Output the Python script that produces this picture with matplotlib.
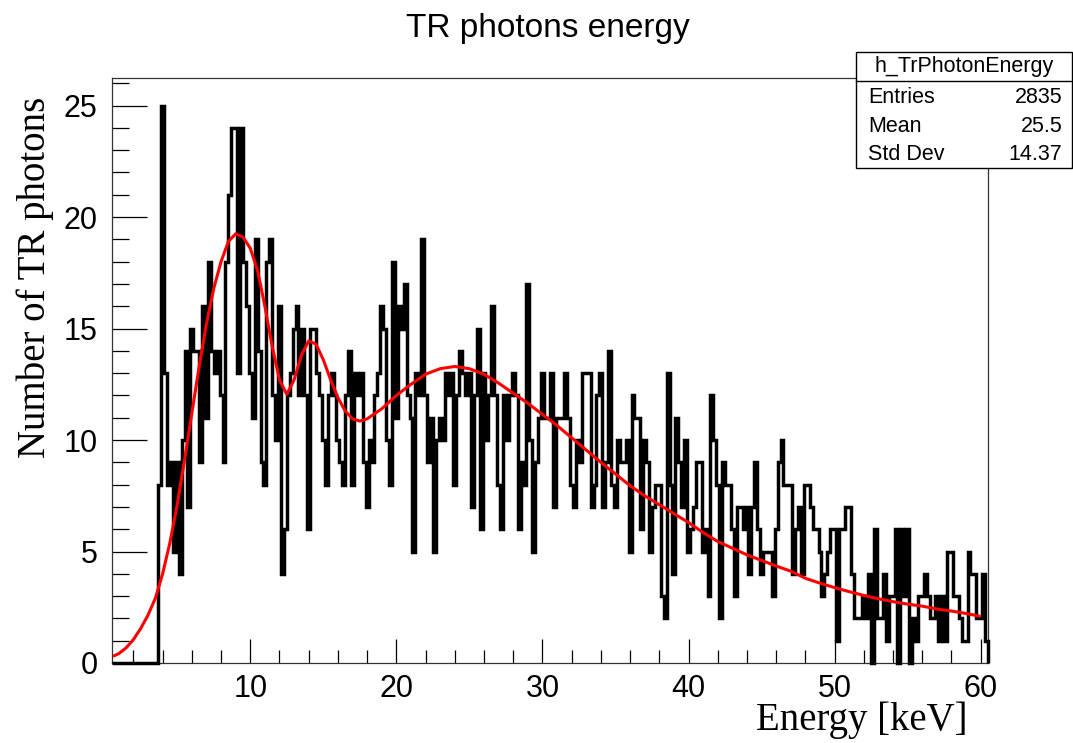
import numpy as np
import matplotlib
matplotlib.use("Agg")
import matplotlib.pyplot as plt
from matplotlib.patches import Rectangle

# Histogram: 300 bins of 0.2 keV between 0.5 and 60.5 keV
x_low, x_high, n_bins = 0.5, 60.5, 300

# Bin contents starting at 3.7 keV (all lower bins are empty)
counts_3_7_to_10_1 = [8, 25, 13, 8, 9, 5, 9, 4, 10, 14, 7, 15, 14, 14, 9, 16,
                      11, 18, 14, 13, 14, 12, 9, 18, 21, 24, 24, 13, 24, 18,
                      16, 13]
counts_10_1_to_20_1 = [11, 19, 14, 9, 8, 18, 19, 12, 10, 16, 4, 6, 12, 13,
                       15, 16, 12, 15, 12, 6, 15, 15, 13, 12, 10, 8, 12, 13,
                       12, 10, 9, 8, 12, 14, 8, 13, 12, 13, 9, 7, 10, 9, 12,
                       13, 16, 15, 10, 8, 18, 11]
counts_20_1_to_30_1 = [16, 15, 17, 12, 11, 5, 13, 12, 19, 12, 9, 11, 5, 10,
                       11, 10, 13, 12, 13, 8, 12, 14, 13, 12, 13, 7, 12, 15,
                       6, 13, 10, 12, 16, 12, 8, 6, 12, 10, 12, 13, 12, 6, 9,
                       8, 17, 10, 5, 9, 11, 13]
counts_30_1_to_40_1 = [11, 11, 13, 7, 11, 11, 11, 13, 11, 8, 7, 10, 9, 13,
                       13, 13, 7, 8, 12, 13, 7, 9, 14, 8, 7, 10, 9, 9, 10, 5,
                       12, 11, 11, 6, 10, 9, 5, 7, 8, 8, 3, 2, 13, 8, 4, 11,
                       9, 7, 10, 5]
counts_40_1_to_50_1 = [6, 7, 9, 9, 5, 6, 3, 12, 10, 8, 2, 9, 8, 8, 6, 3, 7,
                       7, 6, 7, 4, 7, 9, 6, 4, 5, 5, 5, 3, 6, 9, 10, 8, 8, 8,
                       4, 6, 7, 4, 8, 8, 7, 6, 6, 5, 3, 4, 5, 6, 6]
counts_50_1_to_60_5 = [1, 6, 6, 7, 7, 4, 2, 2, 2, 3, 2, 4, 0, 6, 2, 2, 4, 1,
                       3, 3, 6, 0, 6, 3, 6, 0, 2, 1, 3, 3, 4, 3, 2, 2, 3, 1,
                       3, 1, 5, 5, 3, 3, 2, 1, 1, 5, 4, 4, 2, 2, 4, 1]

filled = (counts_3_7_to_10_1 + counts_10_1_to_20_1 + counts_20_1_to_30_1
          + counts_30_1_to_40_1 + counts_40_1_to_50_1 + counts_50_1_to_60_5)
counts = [0] * (n_bins - len(filled)) + filled

# Fit curve, sampled in keV
fit_energy = [0.6, 1.0, 1.5, 2.0, 2.5, 3.0, 3.5, 4.0, 4.5, 5.0, 5.5, 6.0, 6.5,
              7.0, 7.5, 8.0, 8.5, 9.0, 9.5, 10.0, 10.5, 11.0, 11.5, 12.0,
              12.5, 13.0, 13.5, 14.0, 14.5, 15.0, 15.5, 16.0, 16.5, 17.0,
              17.5, 18.0, 19.0, 20.0, 21.0, 22.0, 23.0, 24.0, 25.0, 26.0,
              27.0, 28.0, 29.0, 30.0, 31.0, 32.0, 33.0, 34.0, 35.0, 36.0,
              37.0, 38.0, 39.0, 40.0, 41.0, 42.0, 43.0, 44.0, 45.0, 46.0,
              47.0, 48.0, 49.0, 50.0, 51.0, 52.0, 53.0, 54.0, 55.0, 56.0,
              57.0, 58.0, 59.0, 60.0]
fit_value = [0.3, 0.42, 0.68, 1.05, 1.55, 2.15, 2.9, 4.0, 5.4, 7.1, 9.1, 11.2,
             13.3, 15.2, 16.8, 18.0, 18.9, 19.25, 19.1, 18.6, 17.6, 16.0,
             14.2, 12.7, 12.05, 12.7, 13.8, 14.45, 14.3, 13.6, 12.7, 11.9,
             11.3, 10.95, 10.85, 10.95, 11.4, 12.0, 12.5, 12.95, 13.2, 13.3,
             13.2, 12.95, 12.55, 12.1, 11.65, 11.15, 10.65, 10.1, 9.55, 9.0,
             8.48, 7.95, 7.5, 7.1, 6.7, 6.3, 5.85, 5.45, 5.15, 4.85, 4.6,
             4.35, 4.12, 3.8, 3.58, 3.38, 3.2, 3.03, 2.88, 2.75, 2.64, 2.55,
             2.42, 2.33, 2.22, 2.09]

stats_title = "h_TrPhotonEnergy"
stats_rows = [("Entries", "2835"), ("Mean", "25.5"), ("Std Dev", "14.37")]

W, H, DPI = 1073, 743, 100
fig = plt.figure(figsize=(W / DPI, H / DPI), dpi=DPI)
ax = fig.add_axes([111.5 / W, 1 - 663 / H, (988 - 111.5) / W, (663 - 77.7) / H])

edges = np.linspace(x_low, x_high, n_bins + 1)
ax.stairs(counts, edges, baseline=0, color="black", lw=2.5, clip_on=False,
          zorder=3)
ax.plot(fit_energy, fit_value, color="#ff0000", lw=2.2, zorder=4,
        solid_capstyle="butt", solid_joinstyle="round")

ax.set_xlim(x_low, x_high)
ax.set_ylim(0, 26.25)

sans = ["Liberation Sans", "DejaVu Sans"]
serif = ["Liberation Serif", "DejaVu Serif"]

ax.set_xticks([10, 20, 30, 40, 50, 60])
ax.set_xticks(np.arange(2, 61, 2), minor=True)
ax.set_yticks([0, 5, 10, 15, 20, 25])
ax.set_yticks(np.arange(0, 27, 1), minor=True)
ax.tick_params(axis="both", which="both", direction="in", color="black",
               width=0.9, labelsize=22)
ax.tick_params(axis="x", which="major", length=17.5, pad=8)
ax.tick_params(axis="x", which="minor", length=9.5)
ax.tick_params(axis="y", which="major", length=25, pad=10)
ax.tick_params(axis="y", which="minor", length=12.5)
for lab in ax.get_xticklabels() + ax.get_yticklabels():
    lab.set_fontfamily(sans)

for sp in ax.spines.values():
    sp.set_linewidth(0.9)
    sp.set_color("#333333")

fig.text(548 / W, 1 - 28 / H, "TR photons energy", ha="center", va="center",
         fontsize=24, family=sans)
fig.text(35 / W, 1 - 277 / H, "Number of TR photons", rotation=90,
         ha="center", va="center", fontsize=28, family=serif)
fig.text(968 / W, 1 - 720 / H, "Energy [keV]", ha="right", va="center",
         fontsize=28, family=serif)

# Statistics box
bx0, bx1, by0, by1, bh = 856, 1071.5, 52.3, 167.7, 80.7
fig.patches.append(Rectangle((bx0 / W, 1 - by1 / H), (bx1 - bx0) / W,
                             (by1 - by0) / H, transform=fig.transFigure,
                             facecolor="white", edgecolor="black", lw=1.0,
                             zorder=10))
fig.lines.append(plt.Line2D([bx0 / W, bx1 / W], [1 - bh / H, 1 - bh / H],
                            transform=fig.transFigure, color="black", lw=1.0,
                            zorder=11))
fig.text((bx0 + bx1) / 2 / W, 1 - 66.5 / H, stats_title, ha="center",
         va="center", fontsize=15.5, family=sans, zorder=12)
for i, (name, val) in enumerate(stats_rows):
    yy = 1 - (97.3 + 28.8 * i) / H
    fig.text(868 / W, yy, name, ha="left", va="center", fontsize=15.5,
             family=sans, zorder=12)
    fig.text(1062.5 / W, yy, val, ha="right", va="center", fontsize=15.5,
             family=sans, zorder=12)

fig.savefig("out.png", dpi=DPI)
